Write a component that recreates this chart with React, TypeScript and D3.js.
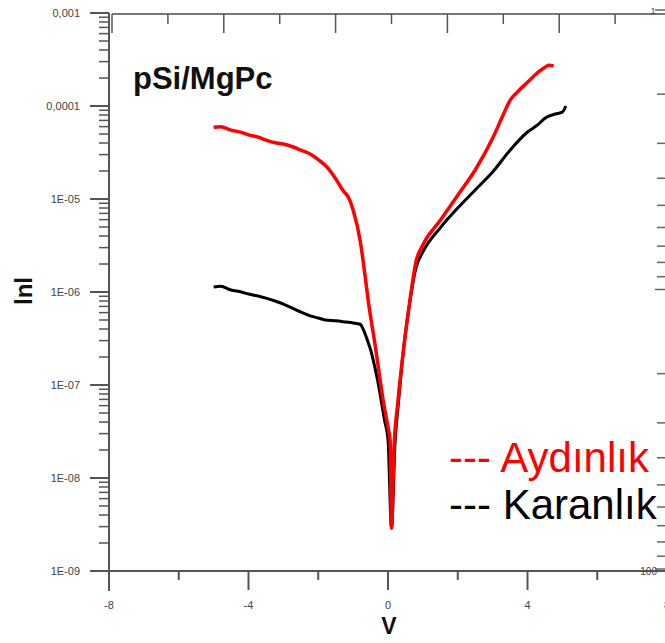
import React from 'react';
import * as d3 from 'd3';

// Aydınlık (light) – red
const lightV = [-5.0, -4.8, -4.5, -4.2, -4.0, -3.7, -3.5, -3.2, -3.0, -2.7, -2.5, -2.2, -2.0, -1.8, -1.5, -1.3, -1.1, -1.0, -0.8, -0.66, -0.57, -0.37, -0.14, 0.0, 0.06, 0.1, 0.17, 0.29, 0.45, 0.63, 0.8, 1.0, 1.5, 2.0, 2.5, 3.0, 3.3, 3.5, 3.7, 4.0, 4.3, 4.5, 4.6, 4.75];
const lightI = [5.9e-5, 6.0e-5, 5.5e-5, 5.2e-5, 4.9e-5, 4.6e-5, 4.3e-5, 4.0e-5, 3.9e-5, 3.6e-5, 3.35e-5, 3.0e-5, 2.65e-5, 2.3e-5, 1.65e-5, 1.25e-5, 9.8e-6, 7.6e-6, 3.6e-6, 1.52e-6, 8.2e-7, 2.7e-7, 6.9e-8, 3.5e-8, 2.56e-8, 2.9e-9, 2.0e-8, 6.9e-8, 2.5e-7, 8.2e-7, 2.1e-6, 3.2e-6, 5.9e-6, 1.1e-5, 2.05e-5, 4.5e-5, 8.0e-5, 1.15e-4, 1.4e-4, 1.8e-4, 2.3e-4, 2.6e-4, 2.75e-4, 2.7e-4];

// Karanlık (dark) – black
const darkV = [-5.0, -4.8, -4.5, -4.2, -4.0, -3.7, -3.5, -3.2, -3.0, -2.7, -2.5, -2.2, -2.0, -1.8, -1.5, -1.2, -1.0, -0.8, -0.7, -0.6, -0.5, -0.4, -0.3, -0.2, -0.1, 0.0, 0.1, 0.2, 0.3, 0.45, 0.63, 0.8, 1.0, 1.5, 2.0, 2.5, 3.0, 3.5, 4.0, 4.3, 4.5, 4.8, 5.0, 5.1];
const darkI = [1.13e-6, 1.15e-6, 1.05e-6, 1.0e-6, 9.5e-7, 9.0e-7, 8.6e-7, 7.9e-7, 7.4e-7, 6.6e-7, 6.1e-7, 5.5e-7, 5.25e-7, 5.0e-7, 4.9e-7, 4.75e-7, 4.65e-7, 4.5e-7, 3.9e-7, 3.1e-7, 2.4e-7, 1.7e-7, 1.13e-7, 7.0e-8, 4.2e-8, 2.6e-8, 2.9e-9, 2.3e-8, 6.5e-8, 2.5e-7, 8.0e-7, 1.8e-6, 2.7e-6, 4.9e-6, 8.0e-6, 1.25e-5, 1.95e-5, 3.35e-5, 5.25e-5, 6.3e-5, 7.4e-5, 8.2e-5, 8.6e-5, 1.0e-4];

const xTickValues = [-8, -6, -4, -2, 0, 2, 4, 6, 8];
const xLabelValues = [-8, -4, 0, 4, 8];
const yMajorValues = [1e-3, 1e-4, 1e-5, 1e-6, 1e-7, 1e-8, 1e-9];
const yMajorLabels = ['0,001', '0,0001', '1E-05', '1E-06', '1E-07', '1E-08', '1E-09'];
const topTickValues = [0, 1, 2, 3, 4, 5, 6, 7, 8, 9, 10];
const rightMajorValues = [1, 10, 100];

const W = 665;
const H = 643;
const FONT = '"Liberation Sans", Arial, Helvetica, sans-serif';

export default function App() {
  const x = d3.scaleLinear().domain([-8, 8]).range([109, 667]);
  const y = d3.scaleLog().domain([1e-9, 1e-3]).range([571, 13]);
  const xTop = d3.scaleLinear().domain([0, 10]).range([112, 671]);
  const yRight = d3.scaleLog().domain([100, 1]).range([569, 10]);

  const line = d3
    .line<[number, number]>()
    .x((d) => x(d[0]))
    .y((d) => y(d[1]))
    .curve(d3.curveMonotoneX);

  const lightData: [number, number][] = lightV.map((v, i) => [v, lightI[i]]);
  const darkData: [number, number][] = darkV.map((v, i) => [v, darkI[i]]);

  const yMinor: number[] = [];
  for (let e = -9; e < -3; e++) {
    for (let k = 2; k <= 9; k++) yMinor.push(k * Math.pow(10, e));
  }
  const rMinor: number[] = [];
  for (let e = 0; e < 2; e++) {
    for (let k = 2; k <= 9; k++) rMinor.push(k * Math.pow(10, e));
  }

  const axisColor = '#555';
  const labelColor = '#444';

  return (
    <svg
      width={W}
      height={H}
      style={{ position: 'absolute', left: 0, top: 0, background: '#fff' }}
      fontFamily={FONT}
    >
      <rect x={0} y={0} width={W} height={H} fill="#fff" />

      {/* top axis (overlay layer) */}
      <line x1={xTop(0)} x2={W} y1={14} y2={14} stroke="#777" strokeWidth={2} />
      {topTickValues.map((t) => (
        <line
          key={'tt' + t}
          x1={xTop(t)}
          x2={xTop(t)}
          y1={14}
          y2={t % 2 === 0 ? 33 : 24}
          stroke="#555"
          strokeWidth={1.5}
        />
      ))}

      {/* right axis ticks (overlay layer) */}
      {rightMajorValues.map((v) => (
        <line key={'rM' + v} x1={655} x2={W} y1={yRight(v)} y2={yRight(v)} stroke="#666" strokeWidth={1.5} />
      ))}
      {rMinor.map((v) => (
        <line key={'rm' + v} x1={657} x2={W} y1={yRight(v)} y2={yRight(v)} stroke="#666" strokeWidth={1.5} />
      ))}
      <text x={653} y={14} fontSize={9} fill={labelColor} textAnchor="middle">1</text>

      {/* left y axis */}
      <line x1={109} x2={109} y1={13} y2={591} stroke={axisColor} strokeWidth={2} />
      {yMajorValues.map((v, i) => (
        <g key={'ym' + i}>
          <line x1={90} x2={109} y1={y(v)} y2={y(v)} stroke={axisColor} strokeWidth={2} />
          <text x={80} y={y(v) + 4} fontSize={11} fill={labelColor} textAnchor="end">
            {yMajorLabels[i]}
          </text>
        </g>
      ))}
      {yMinor.map((v, i) => (
        <line key={'yn' + i} x1={99} x2={109} y1={y(v)} y2={y(v)} stroke={axisColor} strokeWidth={1.5} />
      ))}

      {/* bottom x axis */}
      <line x1={92} x2={W} y1={571} y2={571} stroke={axisColor} strokeWidth={2} />
      {xTickValues.map((t) => (
        <line
          key={'xt' + t}
          x1={x(t)}
          x2={x(t)}
          y1={571}
          y2={t % 4 === 0 ? 590 : 580}
          stroke={axisColor}
          strokeWidth={2}
        />
      ))}
      {xLabelValues.map((t) => (
        <text key={'xl' + t} x={x(t)} y={609} fontSize={11} fill={labelColor} textAnchor="middle">
          {String(t)}
        </text>
      ))}
      <text x={657} y={575} fontSize={10} fill={labelColor} textAnchor="end">100</text>

      {/* axis titles */}
      <text x={389} y={634} fontSize={23} fontWeight="bold" fill="#111" textAnchor="middle">V</text>
      <text
        transform="translate(32,291) rotate(-90)"
        fontSize={24}
        fontWeight="bold"
        fill="#111"
        textAnchor="middle"
      >
        lnl
      </text>

      {/* chart label */}
      <text x={133} y={89} fontSize={31} fontWeight="bold" fill="#111">pSi/MgPc</text>

      {/* curves */}
      <path d={line(darkData) || ''} fill="none" stroke="#000" strokeWidth={3} strokeLinejoin="round" />
      <path d={line(lightData) || ''} fill="none" stroke="#ff0000" strokeWidth={3.5} strokeLinejoin="round" />

      {/* legend */}
      <text x={449} y={472} fontSize={42} fill="#ff0000">--- Aydınlık</text>
      <text x={449} y={519} fontSize={42} fill="#000">--- Karanlık</text>
    </svg>
  );
}
